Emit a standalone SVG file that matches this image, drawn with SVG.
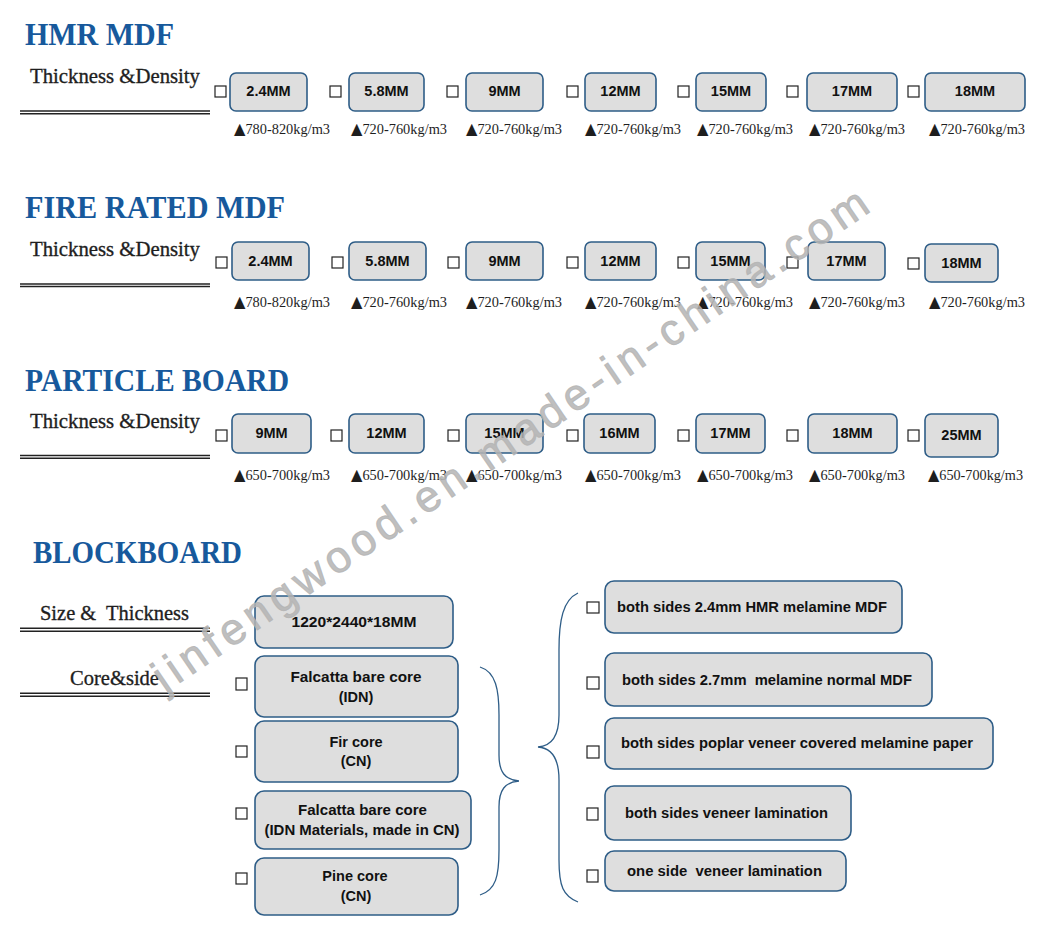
<svg xmlns="http://www.w3.org/2000/svg" width="1060" height="927" viewBox="0 0 1060 927">
<style>
.title{font-family:"Liberation Serif",serif;font-weight:bold;font-size:32px;fill:#17599c}
.lab{font-family:"Liberation Serif",serif;font-size:22px;fill:#1e1e1e;stroke:#1e1e1e;stroke-width:0.35;white-space:pre}
.ul{stroke:#222;stroke-width:1.5}
.box{fill:#dedede;stroke:#2e5d87;stroke-width:1.6}
.bt{font-family:"Liberation Sans",Arial,sans-serif;font-weight:bold;font-size:14.5px;fill:#111;text-anchor:middle}
.bl{font-family:"Liberation Sans",Arial,sans-serif;font-weight:bold;font-size:14.5px;fill:#111;white-space:pre}
.cb{fill:#fff;stroke:#222;stroke-width:1.2}
.den{font-family:"Liberation Serif","DejaVu Serif",serif;font-size:15.5px;fill:#1e1e1e}
.tri{font-family:"DejaVu Sans",sans-serif;font-size:16px}
.brace{fill:none;stroke:#2e5d87;stroke-width:1.3}
.wm{font-family:"Liberation Sans",Arial,sans-serif;font-size:44px;fill:#b4b4b4;fill-opacity:0.85;stroke:#b4b4b4;stroke-opacity:0.85;stroke-width:1}
</style>
<rect width="1060" height="927" fill="#fff"/>

<g id="headers">
<text class="title" x="25" y="45" textLength="149" lengthAdjust="spacingAndGlyphs">HMR MDF</text>
<text class="title" x="25" y="218" textLength="260" lengthAdjust="spacingAndGlyphs">FIRE RATED MDF</text>
<text class="title" x="25" y="391" textLength="264" lengthAdjust="spacingAndGlyphs">PARTICLE BOARD</text>
<text class="title" x="33" y="563" textLength="209" lengthAdjust="spacingAndGlyphs">BLOCKBOARD</text>
<text class="lab" x="30" y="83" textLength="170" lengthAdjust="spacingAndGlyphs">Thickness &amp;Density</text>
<text class="lab" x="30" y="256" textLength="170" lengthAdjust="spacingAndGlyphs">Thickness &amp;Density</text>
<text class="lab" x="30" y="428" textLength="170" lengthAdjust="spacingAndGlyphs">Thickness &amp;Density</text>
<text class="lab" x="40" y="620" textLength="149" lengthAdjust="spacingAndGlyphs" xml:space="preserve">Size &amp;  Thickness</text>
<text class="lab" x="70" y="685" textLength="89" lengthAdjust="spacingAndGlyphs">Core&amp;side</text>
<line class="ul" x1="20" y1="111" x2="210" y2="111"/>
<line class="ul" x1="20" y1="113.8" x2="210" y2="113.8"/>
<line class="ul" x1="20" y1="284" x2="210" y2="284"/>
<line class="ul" x1="20" y1="286.5" x2="210" y2="286.5"/>
<line class="ul" x1="20" y1="455.5" x2="210" y2="455.5"/>
<line class="ul" x1="20" y1="458.2" x2="210" y2="458.2"/>
<line class="ul" x1="20" y1="628.3" x2="210" y2="628.3"/>
<line class="ul" x1="20" y1="631.2" x2="210" y2="631.2"/>
<line class="ul" x1="20" y1="693.3" x2="210" y2="693.3"/>
<line class="ul" x1="20" y1="696.2" x2="210" y2="696.2"/>
</g>

<!-- HMR MDF row -->
<g id="hmr-2.4"><rect class="cb" x="215" y="86" width="11" height="11"/><rect class="box" x="230" y="73" width="77" height="38" rx="6"/><text class="bt" x="268.5" y="96">2.4MM</text><text class="den" x="234" y="134" textLength="96" lengthAdjust="spacingAndGlyphs"><tspan class="tri">▲</tspan>780-820kg/m3</text></g>
<g id="hmr-5.8"><rect class="cb" x="330" y="86" width="11" height="11"/><rect class="box" x="349" y="73" width="75" height="38" rx="6"/><text class="bt" x="386.5" y="96">5.8MM</text><text class="den" x="351" y="134" textLength="96" lengthAdjust="spacingAndGlyphs"><tspan class="tri">▲</tspan>720-760kg/m3</text></g>
<g id="hmr-9"><rect class="cb" x="447" y="86" width="11" height="11"/><rect class="box" x="466" y="73" width="77" height="38" rx="6"/><text class="bt" x="504.5" y="96">9MM</text><text class="den" x="466" y="134" textLength="96" lengthAdjust="spacingAndGlyphs"><tspan class="tri">▲</tspan>720-760kg/m3</text></g>
<g id="hmr-12"><rect class="cb" x="567" y="86" width="11" height="11"/><rect class="box" x="585" y="73" width="71" height="38" rx="6"/><text class="bt" x="620.5" y="96">12MM</text><text class="den" x="585" y="134" textLength="96" lengthAdjust="spacingAndGlyphs"><tspan class="tri">▲</tspan>720-760kg/m3</text></g>
<g id="hmr-15"><rect class="cb" x="678" y="86" width="11" height="11"/><rect class="box" x="696" y="73" width="70" height="38" rx="6"/><text class="bt" x="731" y="96">15MM</text><text class="den" x="697" y="134" textLength="96" lengthAdjust="spacingAndGlyphs"><tspan class="tri">▲</tspan>720-760kg/m3</text></g>
<g id="hmr-17"><rect class="cb" x="787" y="86" width="11" height="11"/><rect class="box" x="807" y="73" width="90" height="38" rx="6"/><text class="bt" x="852" y="96">17MM</text><text class="den" x="809" y="134" textLength="96" lengthAdjust="spacingAndGlyphs"><tspan class="tri">▲</tspan>720-760kg/m3</text></g>
<g id="hmr-18"><rect class="cb" x="908" y="86" width="11" height="11"/><rect class="box" x="925" y="73" width="100" height="38" rx="6"/><text class="bt" x="975" y="96">18MM</text><text class="den" x="929" y="134" textLength="96" lengthAdjust="spacingAndGlyphs"><tspan class="tri">▲</tspan>720-760kg/m3</text></g>

<!-- FIRE RATED row -->
<g id="fr-2.4"><rect class="cb" x="216" y="257" width="11" height="11"/><rect class="box" x="232" y="242" width="77" height="38" rx="6"/><text class="bt" x="270.5" y="266">2.4MM</text><text class="den" x="234" y="307" textLength="96" lengthAdjust="spacingAndGlyphs"><tspan class="tri">▲</tspan>780-820kg/m3</text></g>
<g id="fr-5.8"><rect class="cb" x="332" y="257" width="11" height="11"/><rect class="box" x="349" y="242" width="77" height="38" rx="6"/><text class="bt" x="387.5" y="266">5.8MM</text><text class="den" x="351" y="307" textLength="96" lengthAdjust="spacingAndGlyphs"><tspan class="tri">▲</tspan>720-760kg/m3</text></g>
<g id="fr-9"><rect class="cb" x="448" y="257" width="11" height="11"/><rect class="box" x="466" y="242" width="77" height="38" rx="6"/><text class="bt" x="504.5" y="266">9MM</text><text class="den" x="466" y="307" textLength="96" lengthAdjust="spacingAndGlyphs"><tspan class="tri">▲</tspan>720-760kg/m3</text></g>
<g id="fr-12"><rect class="cb" x="567" y="257" width="11" height="11"/><rect class="box" x="585" y="242" width="71" height="38" rx="6"/><text class="bt" x="620.5" y="266">12MM</text><text class="den" x="585" y="307" textLength="96" lengthAdjust="spacingAndGlyphs"><tspan class="tri">▲</tspan>720-760kg/m3</text></g>
<g id="fr-15"><rect class="cb" x="678" y="257" width="11" height="11"/><rect class="box" x="696" y="242" width="69" height="38" rx="6"/><text class="bt" x="730.5" y="266">15MM</text><text class="den" x="697" y="307" textLength="96" lengthAdjust="spacingAndGlyphs"><tspan class="tri">▲</tspan>720-760kg/m3</text></g>
<g id="fr-17"><rect class="cb" x="787" y="257" width="11" height="11"/><rect class="box" x="808" y="242" width="77" height="38" rx="6"/><text class="bt" x="846.5" y="266">17MM</text><text class="den" x="809" y="307" textLength="96" lengthAdjust="spacingAndGlyphs"><tspan class="tri">▲</tspan>720-760kg/m3</text></g>
<g id="fr-18"><rect class="cb" x="908" y="258" width="11" height="11"/><rect class="box" x="925" y="244" width="73" height="38" rx="6"/><text class="bt" x="961.5" y="268">18MM</text><text class="den" x="929" y="307" textLength="96" lengthAdjust="spacingAndGlyphs"><tspan class="tri">▲</tspan>720-760kg/m3</text></g>

<!-- PARTICLE BOARD row -->
<g id="pb-9"><rect class="cb" x="216" y="430" width="11" height="11"/><rect class="box" x="232" y="414" width="79" height="39" rx="6"/><text class="bt" x="271.5" y="438">9MM</text><text class="den" x="234" y="480" textLength="96" lengthAdjust="spacingAndGlyphs"><tspan class="tri">▲</tspan>650-700kg/m3</text></g>
<g id="pb-12"><rect class="cb" x="331" y="430" width="11" height="11"/><rect class="box" x="349" y="414" width="75" height="39" rx="6"/><text class="bt" x="386.5" y="438">12MM</text><text class="den" x="351" y="480" textLength="96" lengthAdjust="spacingAndGlyphs"><tspan class="tri">▲</tspan>650-700kg/m3</text></g>
<g id="pb-15"><rect class="cb" x="448" y="430" width="11" height="11"/><rect class="box" x="466" y="414" width="77" height="39" rx="6"/><text class="bt" x="504.5" y="438">15MM</text><text class="den" x="466" y="480" textLength="96" lengthAdjust="spacingAndGlyphs"><tspan class="tri">▲</tspan>650-700kg/m3</text></g>
<g id="pb-16"><rect class="cb" x="567" y="430" width="11" height="11"/><rect class="box" x="584" y="414" width="71" height="39" rx="6"/><text class="bt" x="619.5" y="438">16MM</text><text class="den" x="585" y="480" textLength="96" lengthAdjust="spacingAndGlyphs"><tspan class="tri">▲</tspan>650-700kg/m3</text></g>
<g id="pb-17"><rect class="cb" x="678" y="430" width="11" height="11"/><rect class="box" x="696" y="414" width="69" height="39" rx="6"/><text class="bt" x="730.5" y="438">17MM</text><text class="den" x="697" y="480" textLength="96" lengthAdjust="spacingAndGlyphs"><tspan class="tri">▲</tspan>650-700kg/m3</text></g>
<g id="pb-18"><rect class="cb" x="787" y="430" width="11" height="11"/><rect class="box" x="808" y="414" width="89" height="39" rx="6"/><text class="bt" x="852.5" y="438">18MM</text><text class="den" x="809" y="480" textLength="96" lengthAdjust="spacingAndGlyphs"><tspan class="tri">▲</tspan>650-700kg/m3</text></g>
<g id="pb-25"><rect class="cb" x="908" y="430" width="11" height="11"/><rect class="box" x="925" y="414" width="73" height="43" rx="6"/><text class="bt" x="961.5" y="440">25MM</text><text class="den" x="928" y="480" textLength="95" lengthAdjust="spacingAndGlyphs"><tspan class="tri">▲</tspan>650-700kg/m3</text></g>

<!-- BLOCKBOARD -->
<g id="bb-size"><rect class="box" x="255" y="596" width="198" height="52" rx="9"/><text class="bt" x="354" y="627" textLength="125" lengthAdjust="spacingAndGlyphs">1220*2440*18MM</text></g>
<g id="bb-core1"><rect class="cb" x="236" y="678" width="11" height="12"/><rect class="box" x="255" y="656" width="203" height="61" rx="9"/><text class="bt" x="356" y="681.5" textLength="131" lengthAdjust="spacingAndGlyphs">Falcatta bare core</text><text class="bt" x="356" y="701.5">(IDN)</text></g>
<g id="bb-core2"><rect class="cb" x="236" y="746" width="11" height="11"/><rect class="box" x="255" y="721" width="203" height="61" rx="9"/><text class="bt" x="356" y="746.5">Fir core</text><text class="bt" x="356" y="766">(CN)</text></g>
<g id="bb-core3"><rect class="cb" x="236" y="808" width="11" height="11"/><rect class="box" x="255" y="791" width="216" height="58" rx="9"/><text class="bt" x="362.5" y="815" textLength="129" lengthAdjust="spacingAndGlyphs">Falcatta bare core</text><text class="bt" x="362" y="835" textLength="195" lengthAdjust="spacingAndGlyphs">(IDN Materials, made in CN)</text></g>
<g id="bb-core4"><rect class="cb" x="236" y="873" width="11" height="11"/><rect class="box" x="255" y="858" width="203" height="57" rx="9"/><text class="bt" x="355" y="881">Pine core</text><text class="bt" x="356" y="901">(CN)</text></g>

<g id="bb-side1"><rect class="cb" x="587" y="602" width="12" height="11"/><rect class="box" x="605" y="581" width="297" height="52" rx="9"/><text class="bl" x="617" y="612" textLength="270" lengthAdjust="spacingAndGlyphs">both sides 2.4mm HMR melamine MDF</text></g>
<g id="bb-side2"><rect class="cb" x="587" y="677" width="12" height="12"/><rect class="box" x="605" y="653" width="327" height="53" rx="9"/><text class="bl" x="622" y="685" textLength="290" lengthAdjust="spacingAndGlyphs" xml:space="preserve">both sides 2.7mm  melamine normal MDF</text></g>
<g id="bb-side3"><rect class="cb" x="587" y="746" width="12" height="12"/><rect class="box" x="605" y="718" width="388" height="51" rx="9"/><text class="bl" x="621" y="748" textLength="352" lengthAdjust="spacingAndGlyphs">both sides poplar veneer covered melamine paper</text></g>
<g id="bb-side4"><rect class="cb" x="587" y="808" width="11" height="12"/><rect class="box" x="605" y="786" width="246" height="54" rx="9"/><text class="bl" x="625" y="818" textLength="203" lengthAdjust="spacingAndGlyphs">both sides veneer lamination</text></g>
<g id="bb-side5"><rect class="cb" x="587" y="870" width="11" height="12"/><rect class="box" x="605" y="851" width="241" height="40" rx="9"/><text class="bl" x="627" y="876" textLength="195" lengthAdjust="spacingAndGlyphs" xml:space="preserve">one side  veneer lamination</text></g>

<g id="connectors">
<path class="brace" d="M480,667 C496,672 499,690 499,715 L499,755 C499,772 505,780 519,781 C505,782 499,790 499,807 L499,850 C499,876 496,890 480,895"/>
<path class="brace" d="M578,593 C563,600 559,620 559,650 L559,715 C559,735 552,746 538,747 C552,748 559,760 559,780 L559,860 C559,886 563,896 578,902"/>
</g>

<g id="watermark">
<text class="wm" transform="translate(165,693) rotate(-34.3)" x="0" y="0" textLength="856">jinfengwood.en.made-in-china.com</text>
</g>
</svg>
